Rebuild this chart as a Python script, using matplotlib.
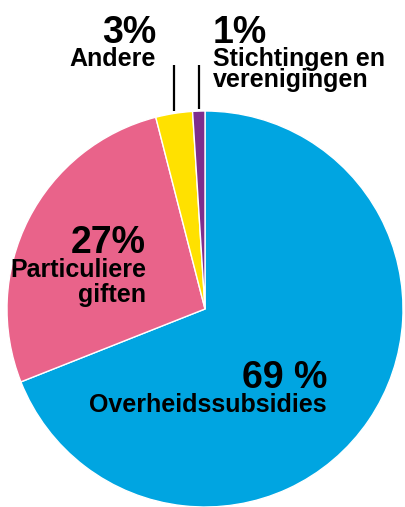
import matplotlib
matplotlib.use("Agg")
import matplotlib.pyplot as plt
import numpy as np

labels = ["Overheidssubsidies", "Particuliere\ngiften", "Andere", "Stichtingen en\nverenigingen"]
values = [69, 27, 3, 1]
pct_labels = ["69 %", "27%", "3%", "1%"]
colors = ["#00A5E1", "#E9638A", "#FFE100", "#7D2E8D"]

W, H = 405, 507
fig = plt.figure(figsize=(W / 100, H / 100), dpi=100)
ax = fig.add_axes([0, 0, 1, 1])

cx, cy, r = 205, H - 309, 198
wedges, _ = ax.pie(values, colors=colors, startangle=90, counterclock=False,
                   center=(cx, cy), radius=r, frame=True,
                   wedgeprops=dict(edgecolor="white", linewidth=1.0))
ax.set_xlim(0, W)
ax.set_ylim(0, H)
ax.set_aspect("equal")
ax.axis("off")

font = "Liberation Sans"
big = 27
small = 18


def ypx(y):
    return H - y


def txt(x, y, s, ha, size):
    ax.text(x, ypx(y), s, ha=ha, va="baseline", fontsize=size,
            fontweight="bold", family=font)


# 69 %
txt(327, 388, pct_labels[0], "right", big)
txt(327, 412, labels[0], "right", small)

# 27%
txt(146, 253, pct_labels[1], "right", big)
for k, line in enumerate(labels[1].split("\n")):
    txt(146, 277 + 25 * k, line, "right", small)

# leader lines at wedge mid-angles
for i in (2, 3):
    w = wedges[i]
    theta = np.deg2rad((w.theta1 + w.theta2) / 2)
    x = cx + r * np.cos(theta)
    ax.plot([x, x], [ypx(65), cy + r * np.sin(theta) + 2], color="black",
            linewidth=1.6, solid_capstyle="butt")

# 3%
txt(156, 43, pct_labels[2], "right", big)
txt(156, 66, labels[2], "right", small)

# 1%
txt(213, 43, pct_labels[3], "left", big)
for k, line in enumerate(labels[3].split("\n")):
    txt(213, 66 + 21 * k, line, "left", small)

fig.savefig("out.png", dpi=100)
